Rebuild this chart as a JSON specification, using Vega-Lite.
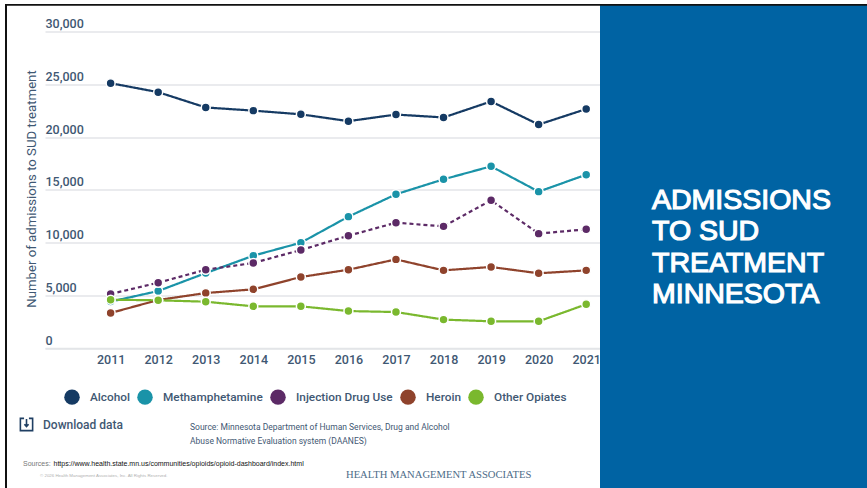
{
  "$schema": "https://vega.github.io/schema/vega-lite/v6.json",
  "width": 555,
  "height": 316.5,
  "autosize": "none",
  "padding": {"left": 45, "top": 31.5, "right": 267, "bottom": 140},
  "background": "white",
  "config": {"view": {"stroke": null}, "text": {"font": "Roboto"}},
  "data": {"values": [
    {"year":2011,"series":"Alcohol","admissions":25100},{"year":2012,"series":"Alcohol","admissions":24250},{"year":2013,"series":"Alcohol","admissions":22800},{"year":2014,"series":"Alcohol","admissions":22500},{"year":2015,"series":"Alcohol","admissions":22150},{"year":2016,"series":"Alcohol","admissions":21500},{"year":2017,"series":"Alcohol","admissions":22130},{"year":2018,"series":"Alcohol","admissions":21850},{"year":2019,"series":"Alcohol","admissions":23370},{"year":2020,"series":"Alcohol","admissions":21180},{"year":2021,"series":"Alcohol","admissions":22650},
    {"year":2011,"series":"Methamphetamine","admissions":4400},{"year":2012,"series":"Methamphetamine","admissions":5400},{"year":2013,"series":"Methamphetamine","admissions":7100},{"year":2014,"series":"Methamphetamine","admissions":8750},{"year":2015,"series":"Methamphetamine","admissions":9980},{"year":2016,"series":"Methamphetamine","admissions":12450},{"year":2017,"series":"Methamphetamine","admissions":14570},{"year":2018,"series":"Methamphetamine","admissions":15990},{"year":2019,"series":"Methamphetamine","admissions":17220},{"year":2020,"series":"Methamphetamine","admissions":14820},{"year":2021,"series":"Methamphetamine","admissions":16430},
    {"year":2011,"series":"Injection Drug Use","admissions":5120},{"year":2012,"series":"Injection Drug Use","admissions":6190},{"year":2013,"series":"Injection Drug Use","admissions":7420},{"year":2014,"series":"Injection Drug Use","admissions":8060},{"year":2015,"series":"Injection Drug Use","admissions":9290},{"year":2016,"series":"Injection Drug Use","admissions":10640},{"year":2017,"series":"Injection Drug Use","admissions":11880},{"year":2018,"series":"Injection Drug Use","admissions":11530},{"year":2019,"series":"Injection Drug Use","admissions":14000},{"year":2020,"series":"Injection Drug Use","admissions":10840},{"year":2021,"series":"Injection Drug Use","admissions":11250},
    {"year":2011,"series":"Heroin","admissions":3320},{"year":2012,"series":"Heroin","admissions":4550},{"year":2013,"series":"Heroin","admissions":5210},{"year":2014,"series":"Heroin","admissions":5560},{"year":2015,"series":"Heroin","admissions":6730},{"year":2016,"series":"Heroin","admissions":7420},{"year":2017,"series":"Heroin","admissions":8400},{"year":2018,"series":"Heroin","admissions":7360},{"year":2019,"series":"Heroin","admissions":7680},{"year":2020,"series":"Heroin","admissions":7080},{"year":2021,"series":"Heroin","admissions":7360},
    {"year":2011,"series":"Other Opiates","admissions":4580},{"year":2012,"series":"Other Opiates","admissions":4520},{"year":2013,"series":"Other Opiates","admissions":4390},{"year":2014,"series":"Other Opiates","admissions":3950},{"year":2015,"series":"Other Opiates","admissions":3950},{"year":2016,"series":"Other Opiates","admissions":3500},{"year":2017,"series":"Other Opiates","admissions":3410},{"year":2018,"series":"Other Opiates","admissions":2690},{"year":2019,"series":"Other Opiates","admissions":2530},{"year":2020,"series":"Other Opiates","admissions":2530},{"year":2021,"series":"Other Opiates","admissions":4140}
  ]},
  "encoding": {
    "x": {
      "field": "year", "type": "quantitative",
      "scale": {"domain": [2009.62, 2021.29], "nice": false, "zero": false},
      "axis": {
        "values": [2011,2012,2013,2014,2015,2016,2017,2018,2019,2020,2021],
        "format": "d", "title": null, "grid": false, "ticks": false,
        "domainColor": "#e3e5e8", "domainWidth": 1.5,
        "labelFont": "Roboto", "labelFontSize": 12.5, "labelFontWeight": 500,
        "labelColor": "#3f5873", "labelPadding": 5
      }
    },
    "y": {
      "field": "admissions", "type": "quantitative",
      "scale": {"domain": [0, 30000], "nice": false},
      "axis": {
        "values": [0,5000,10000,15000,20000,25000,30000],
        "format": ",.0f", "grid": true, "gridColor": "#e3e5e8", "gridWidth": 1.5,
        "ticks": false, "domain": false,
        "labelFont": "Roboto", "labelFontSize": 12.5, "labelFontWeight": 500,
        "labelColor": "#3f5873", "labelAlign": "left", "labelBaseline": "bottom",
        "labelPadding": 0, "labelOffset": -1,
        "title": "Number of admissions to SUD treatment",
        "titleFont": "Roboto", "titleFontSize": 13.2, "titleFontWeight": 400,
        "titleColor": "#3f5873", "titleX": -7, "titleY": 157, "titleAnchor": "middle"
      }
    }
  },
  "layer": [
    {
      "mark": {"type": "line", "strokeWidth": 2.2, "clip": false},
      "encoding": {
        "stroke": {"field": "series", "type": "nominal", "legend": null,
          "scale": {"domain": ["Other Opiates","Heroin","Injection Drug Use","Methamphetamine","Alcohol"],
                    "range": ["#7ab82e","#8f432c","#5c2a66","#1a93a8","#153a63"]}},
        "strokeDash": {"field": "series", "type": "nominal", "legend": null,
          "scale": {"domain": ["Other Opiates","Heroin","Injection Drug Use","Methamphetamine","Alcohol"],
                    "range": [[1,0],[1,0],[4,3],[1,0],[1,0]]}},
        "order": {"field": "year"}
      }
    },
    {
      "mark": {"type": "point", "filled": true, "opacity": 1, "size": 80, "stroke": "white", "strokeWidth": 1.5, "clip": false},
      "encoding": {
        "color": {"field": "series", "type": "nominal",
          "scale": {"domain": ["Alcohol","Methamphetamine","Injection Drug Use","Heroin","Other Opiates"],
                    "range": ["#153a63","#1a93a8","#5c2a66","#8f432c","#7ab82e"]},
          "legend": {
            "title": null, "orient": "none", "direction": "horizontal",
            "legendX": 19, "legendY": 357.5, "symbolType": "circle", "symbolSize": 240,
            "symbolStrokeWidth": 0,
            "labelFont": "Roboto", "labelFontSize": 11.8, "labelFontWeight": 500,
            "labelColor": "#3f5873", "labelOffset": 10, "columnPadding": 7
          }
        }
      }
    },
    {"data": {"values": [{"label": "panel"}]}, "mark": {"type": "rect", "x": 555, "x2": 822, "y": -26.5, "y2": 456.5, "fill": "#0063a3", "clip": false}, "encoding": {"x": null, "y": null}},
    {"data": {"values": [{"label": "top edge"}]}, "mark": {"type": "rect", "x": -40, "x2": 822, "y": -27.5, "y2": -25.7, "fill": "#111111", "clip": false}, "encoding": {"x": null, "y": null}},
    {"data": {"values": [{"label": "left edge"}]}, "mark": {"type": "rect", "x": -40, "x2": -38, "y": -27.5, "y2": 456.5, "fill": "#111111", "clip": false}, "encoding": {"x": null, "y": null}},
    {"data": {"values": [{"label": "ADMISSIONS"}]},
     "mark": {"type": "text", "x": 607, "y": 168, "align": "left", "baseline": "middle", "font": "Liberation Sans", "fontSize": 28.5, "fill": "white", "stroke": "white", "strokeWidth": 1.2, "clip": false},
     "encoding": {"x": null, "y": null, "text": {"field": "label"}}},
    {"data": {"values": [{"label": "TO SUD"}]},
     "mark": {"type": "text", "x": 607, "y": 199.5, "align": "left", "baseline": "middle", "font": "Liberation Sans", "fontSize": 28.5, "fill": "white", "stroke": "white", "strokeWidth": 1.2, "clip": false},
     "encoding": {"x": null, "y": null, "text": {"field": "label"}}},
    {"data": {"values": [{"label": "TREATMENT"}]},
     "mark": {"type": "text", "x": 607, "y": 231, "align": "left", "baseline": "middle", "font": "Liberation Sans", "fontSize": 28.5, "fill": "white", "stroke": "white", "strokeWidth": 1.2, "clip": false},
     "encoding": {"x": null, "y": null, "text": {"field": "label"}}},
    {"data": {"values": [{"label": "MINNESOTA"}]},
     "mark": {"type": "text", "x": 607, "y": 262, "align": "left", "baseline": "middle", "font": "Liberation Sans", "fontSize": 28.5, "fill": "white", "stroke": "white", "strokeWidth": 1.2, "clip": false},
     "encoding": {"x": null, "y": null, "text": {"field": "label"}}},
    {"data": {"values": [{"label": "Download data"}]},
     "mark": {"type": "text", "x": -2, "y": 393, "align": "left", "baseline": "middle", "font": "Roboto", "fontWeight": 500, "fontSize": 12, "fill": "#3f5873", "clip": false},
     "encoding": {"x": null, "y": null, "text": {"field": "label"}}},
    {"data": {"values": [{"label": "Download icon"}]},
     "mark": {"type": "point", "x": -18.5, "y": 393, "filled": false, "size": 600, "stroke": "#1f3f63", "strokeWidth": 1.6, "opacity": 1, "clip": false,
              "shape": "M -0.2 -0.5 L -0.5 -0.5 L -0.5 0.5 L 0.5 0.5 L 0.5 -0.5 L 0.2 -0.5 M 0 -0.45 L 0 0.15 M -0.17 -0.02 L 0 0.17 L 0.17 -0.02"},
     "encoding": {"x": null, "y": null}},
    {"data": {"values": [{"label": "Source: Minnesota Department of Human Services, Drug and Alcohol"}]},
     "mark": {"type": "text", "x": 145, "y": 395, "align": "left", "baseline": "middle", "font": "Roboto", "fontSize": 8.5, "fill": "#3f5873", "clip": false},
     "encoding": {"x": null, "y": null, "text": {"field": "label"}}},
    {"data": {"values": [{"label": "Abuse Normative Evaluation system (DAANES)"}]},
     "mark": {"type": "text", "x": 145, "y": 409, "align": "left", "baseline": "middle", "font": "Roboto", "fontSize": 8.5, "fill": "#3f5873", "clip": false},
     "encoding": {"x": null, "y": null, "text": {"field": "label"}}},
    {"data": {"values": [{"label": "Sources:"}]},
     "mark": {"type": "text", "x": -22, "y": 432.5, "align": "left", "baseline": "middle", "font": "Liberation Sans", "fontSize": 7, "fill": "#777777", "clip": false},
     "encoding": {"x": null, "y": null, "text": {"field": "label"}}},
    {"data": {"values": [{"label": "https://www.health.state.mn.us/communities/opioids/opioid-dashboard/index.html"}]},
     "mark": {"type": "text", "x": 8.5, "y": 432.5, "align": "left", "baseline": "middle", "font": "Liberation Sans", "fontSize": 7, "fill": "#111111", "clip": false},
     "encoding": {"x": null, "y": null, "text": {"field": "label"}}},
    {"data": {"values": [{"label": "© 2026 Health Management Associates, Inc. All Rights Reserved."}]},
     "mark": {"type": "text", "x": -5, "y": 444, "align": "left", "baseline": "middle", "font": "Liberation Sans", "fontSize": 4.4, "fill": "#b0b0b0", "clip": false},
     "encoding": {"x": null, "y": null, "text": {"field": "label"}}},
    {"data": {"values": [{"label": "HEALTH MANAGEMENT ASSOCIATES"}]},
     "mark": {"type": "text", "x": 301, "y": 443.5, "align": "left", "baseline": "middle", "font": "Liberation Serif", "fontSize": 10.6, "fill": "#4d6c88", "clip": false},
     "encoding": {"x": null, "y": null, "text": {"field": "label"}}}
  ]
}
